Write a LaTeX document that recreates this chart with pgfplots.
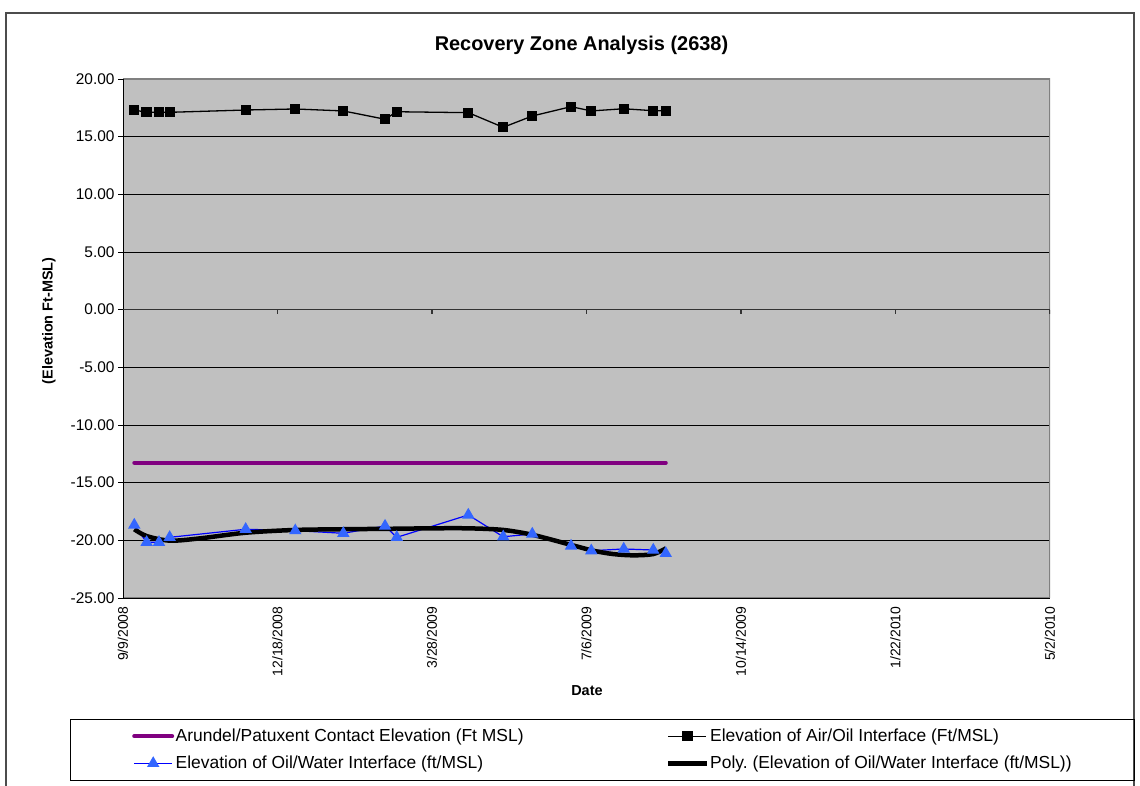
\documentclass[border=0pt]{standalone}
\usepackage{pgfplots}
\usepackage{pgfplotstable}
\pgfplotsset{compat=1.18}
\usepackage{fontspec}
\setmainfont{Liberation Sans}

\definecolor{plotgray}{HTML}{C0C0C0}
\definecolor{framegray}{HTML}{808080}
\definecolor{arundel}{HTML}{800080}
\definecolor{tri}{HTML}{3366FF}

% days counted from 9/9/2008
\pgfplotstableread{
day   contact air    water
7.3   -13.27  17.31  -18.67
15.3  -13.27  17.11  -20.17
23.3  -13.27  17.11  -20.17
30.2  -13.27  17.11  -19.74
79.4  -13.27  17.31  -19.04
111.5 -13.27  17.40  -19.16
142.6 -13.27  17.23  -19.39
169.6 -13.27  16.51  -18.76
177.2 -13.27  17.16  -19.74
223.5 -13.27  17.08  -17.80
246.1 -13.27  15.81  -19.69
264.9 -13.27  16.79  -19.45
290.0 -13.27  17.60  -20.49
303.1 -13.27  17.23  -20.90
324.1 -13.27  17.42  -20.75
343.2 -13.27  17.25  -20.84
351.3 -13.27  17.25  -21.13
}\wells

\begin{document}
\begin{tikzpicture}[x=1bp,y=1bp]
\path[use as bounding box] (0,0) rectangle (1140,786);
\draw[line width=2bp, black!70] (6,0) -- (6,773) -- (1134,773) -- (1134,0);
\draw[line width=1bp, black] (70,5) rectangle (1134,66);
\begin{axis}[
  at={(123bp,188bp)}, anchor=south west,
  scale only axis, width=927bp, height=519bp,
  xmin=0, xmax=600, ymin=-25, ymax=20,
  axis background/.style={fill=plotgray},
  axis line style={draw=none},
  xtick={0,100,...,600},
  xticklabels={9/9/2008,12/18/2008,3/28/2009,7/6/2009,10/14/2009,1/22/2010,5/2/2010},
  xtick style={draw=none},
  xticklabel style={rotate=90, anchor=east, font=\fontsize{14}{16}\selectfont},
  ytick={-25,-20,...,20},
  ytick pos=left, tick align=outside, major tick length=5bp,
  ytick style={black, line width=0.8bp},
  yticklabel style={font=\fontsize{15.5}{18}\selectfont},
  /pgf/number format/.cd, fixed, fixed zerofill, precision=2, assume math mode=true,
  /pgfplots/.cd,
  ymajorgrids, grid style={black, line width=0.8bp},
  title={Recovery Zone Analysis (2638)},
  title style={at={(axis description cs:0.4946,1.054)}, anchor=center,
    font=\bfseries\fontsize{20}{24}\selectfont},
  xlabel={Date},
  xlabel style={at={(axis description cs:0.5005,-0.179)}, anchor=center,
    font=\bfseries\fontsize{14.5}{17}\selectfont},
  ylabel={(Elevation Ft-MSL)},
  ylabel style={at={(axis description cs:-0.080,0.534)}, anchor=center,
    font=\bfseries\fontsize{14.5}{17}\selectfont},
  legend columns=2,
  legend cell align=left,
  legend style={at={(axis description cs:0.0065,-0.2457)}, anchor=north west,
    draw=none, fill=none, row sep=10bp,
    nodes={inner sep=1.5bp},
    font=\fontsize{17.5}{20}\selectfont},
  legend image code/.code={\draw[mark repeat=2, mark phase=2]
    plot coordinates {(0bp,0bp) (19bp,0bp) (38bp,0bp)};},
]
\addplot[arundel, line width=4bp, line cap=round, no marks]
  table[x=day, y=contact] {\wells};
\addlegendentry{\makebox[489bp][l]{Arundel/Patuxent Contact Elevation (Ft MSL)}}
\addplot[black, line width=1.3bp, mark=square*, mark size=4.5bp,
  mark options={solid, fill=black}]
  table[x=day, y=air] {\wells};
\addlegendentry{Elevation of Air/Oil Interface (Ft/MSL)}
\addplot[blue, line width=1.2bp, mark=triangle*, mark size=6bp,
  mark options={solid, fill=tri, draw=tri}]
  table[x=day, y=water] {\wells};
\addlegendentry{\makebox[489bp][l]{Elevation of Oil/Water Interface (ft/MSL)}}
\addplot[black, line width=4.5bp, smooth, no marks] coordinates {
  (7.3,-19.04) (15.3,-19.63) (30.4,-20.03) (49.8,-19.83) (79.4,-19.34)
  (111.5,-19.10) (142.6,-19.04) (179.3,-18.99) (198.7,-18.96) (223.5,-18.96)
  (246.1,-19.10) (265.6,-19.54) (290.4,-20.41) (304.4,-20.90) (317.3,-21.19)
  (330.3,-21.30) (343.2,-21.19) (351.5,-20.69)
};
\addlegendentry{Poly.\ (Elevation of Oil/Water Interface (ft/MSL))}
% outline of the plot area and the axis at 0 with its tick marks
\draw[framegray, line width=1.5bp] (rel axis cs:0,0) -- (rel axis cs:1,0)
  -- (rel axis cs:1,1) -- (rel axis cs:0,1);
\draw[black, line width=1bp] (rel axis cs:0,0) -- (rel axis cs:0,1);
\draw[black!80, line width=1.5bp] (axis cs:0,0) -- (axis cs:600,0);
\pgfplotsinvokeforeach{100,200,300,400,500,600}{
  \draw[black!80, line width=1.2bp] (axis cs:#1,0) -- ([yshift=-4bp]axis cs:#1,0);
}
\end{axis}
\end{tikzpicture}
\end{document}
